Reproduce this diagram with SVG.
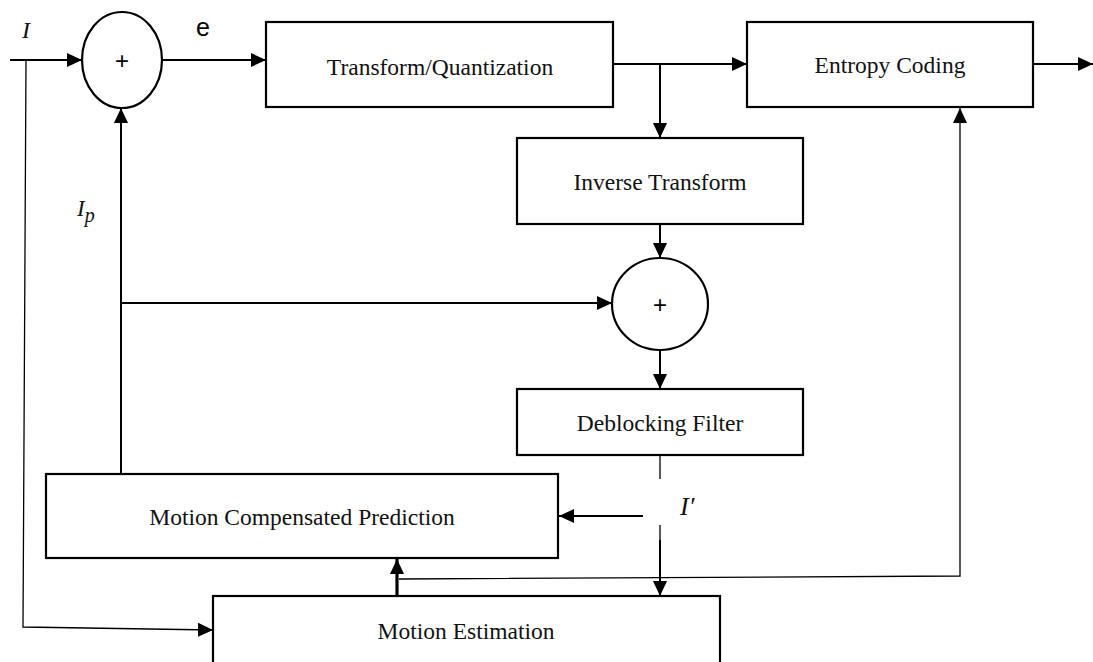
<svg xmlns="http://www.w3.org/2000/svg" width="1093" height="662" viewBox="0 0 1093 662">
<defs>
<marker id="ah" markerWidth="15" markerHeight="14" refX="15" refY="7" orient="auto" markerUnits="userSpaceOnUse">
<path d="M0,0 L15,7 L0,14 Z" fill="#000"/>
</marker>
<style>
.box{fill:#fff;stroke:#000;stroke-width:2.2}
.lbl{font-family:"Liberation Serif","Times New Roman",serif;font-size:23.5px;fill:#111;text-anchor:middle}
.sym{font-family:"Liberation Sans",Arial,sans-serif;fill:#000;text-anchor:middle}
.it{font-family:"Liberation Serif","Times New Roman",serif;font-style:italic;fill:#111}
.c{fill:none;stroke:#000;stroke-width:2}
.t{fill:none;stroke:#000;stroke-width:1.3}
</style>
</defs>
<rect width="1093" height="662" fill="#fff"/>
<g id="connectors">
<line class="c" x1="10" y1="60" x2="82" y2="60" marker-end="url(#ah)"/>
<polyline class="t" points="26,60 23,627 213,630" marker-end="url(#ah)"/>
<line class="c" x1="162" y1="60" x2="266" y2="60" marker-end="url(#ah)"/>
<line class="c" x1="614" y1="64" x2="747" y2="64" marker-end="url(#ah)"/>
<line class="c" x1="660" y1="64" x2="660" y2="138" marker-end="url(#ah)"/>
<line class="c" x1="1034" y1="64" x2="1093" y2="64" marker-end="url(#ah)"/>
<line class="c" x1="660" y1="224" x2="660" y2="258" marker-end="url(#ah)"/>
<line class="c" x1="660" y1="350" x2="660" y2="389" marker-end="url(#ah)"/>
<line class="c" x1="121" y1="474" x2="121" y2="108" marker-end="url(#ah)"/>
<line class="c" x1="121" y1="303" x2="612" y2="303" marker-end="url(#ah)"/>
<line class="t" x1="660" y1="455" x2="660" y2="479"/>
<line class="t" x1="660" y1="525" x2="660" y2="541"/>
<line class="c" x1="660" y1="540" x2="660" y2="596" marker-end="url(#ah)"/>
<line class="c" x1="643" y1="516" x2="559" y2="516" marker-end="url(#ah)"/>
<line stroke="#000" stroke-width="3.2" x1="397" y1="596" x2="397" y2="559" marker-end="url(#ah)"/>
<polyline class="t" points="399,579 960,576 960,108" marker-end="url(#ah)"/>
</g>
<g id="sum1">
<ellipse cx="122" cy="60" rx="40" ry="48" fill="#fff" stroke="#000" stroke-width="2.2"/>
<text class="sym" x="122" y="69" font-size="24">+</text>
</g>
<g id="transform">
<rect class="box" x="266" y="22" width="347" height="85"/>
<text class="lbl" x="440" y="75">Transform/Quantization</text>
</g>
<g id="entropy">
<rect class="box" x="747" y="22" width="286" height="85"/>
<text class="lbl" x="890" y="73">Entropy Coding</text>
</g>
<g id="inverse">
<rect class="box" x="517" y="138" width="286" height="86"/>
<text class="lbl" x="660" y="190">Inverse Transform</text>
</g>
<g id="sum2">
<ellipse cx="660" cy="304" rx="48" ry="46" fill="#fff" stroke="#000" stroke-width="2.2"/>
<text class="sym" x="660" y="313" font-size="24">+</text>
</g>
<g id="deblock">
<rect class="box" x="517" y="389" width="286" height="66"/>
<text class="lbl" x="660" y="431">Deblocking Filter</text>
</g>
<g id="mcp">
<rect class="box" x="46" y="474" width="512" height="84"/>
<text class="lbl" x="302" y="525">Motion Compensated Prediction</text>
</g>
<g id="me">
<rect class="box" x="213" y="596" width="507" height="80"/>
<text class="lbl" x="466" y="639">Motion Estimation</text>
</g>
<g id="labels">
<text class="it" x="22" y="38" font-size="24">I</text>
<text class="sym" x="203" y="36" font-size="25">e</text>
<text class="it" x="77" y="216" font-size="23">I<tspan font-size="20" dy="6">p</tspan></text>
<text class="it" x="680" y="515" font-size="26">I′</text>
</g>
</svg>
